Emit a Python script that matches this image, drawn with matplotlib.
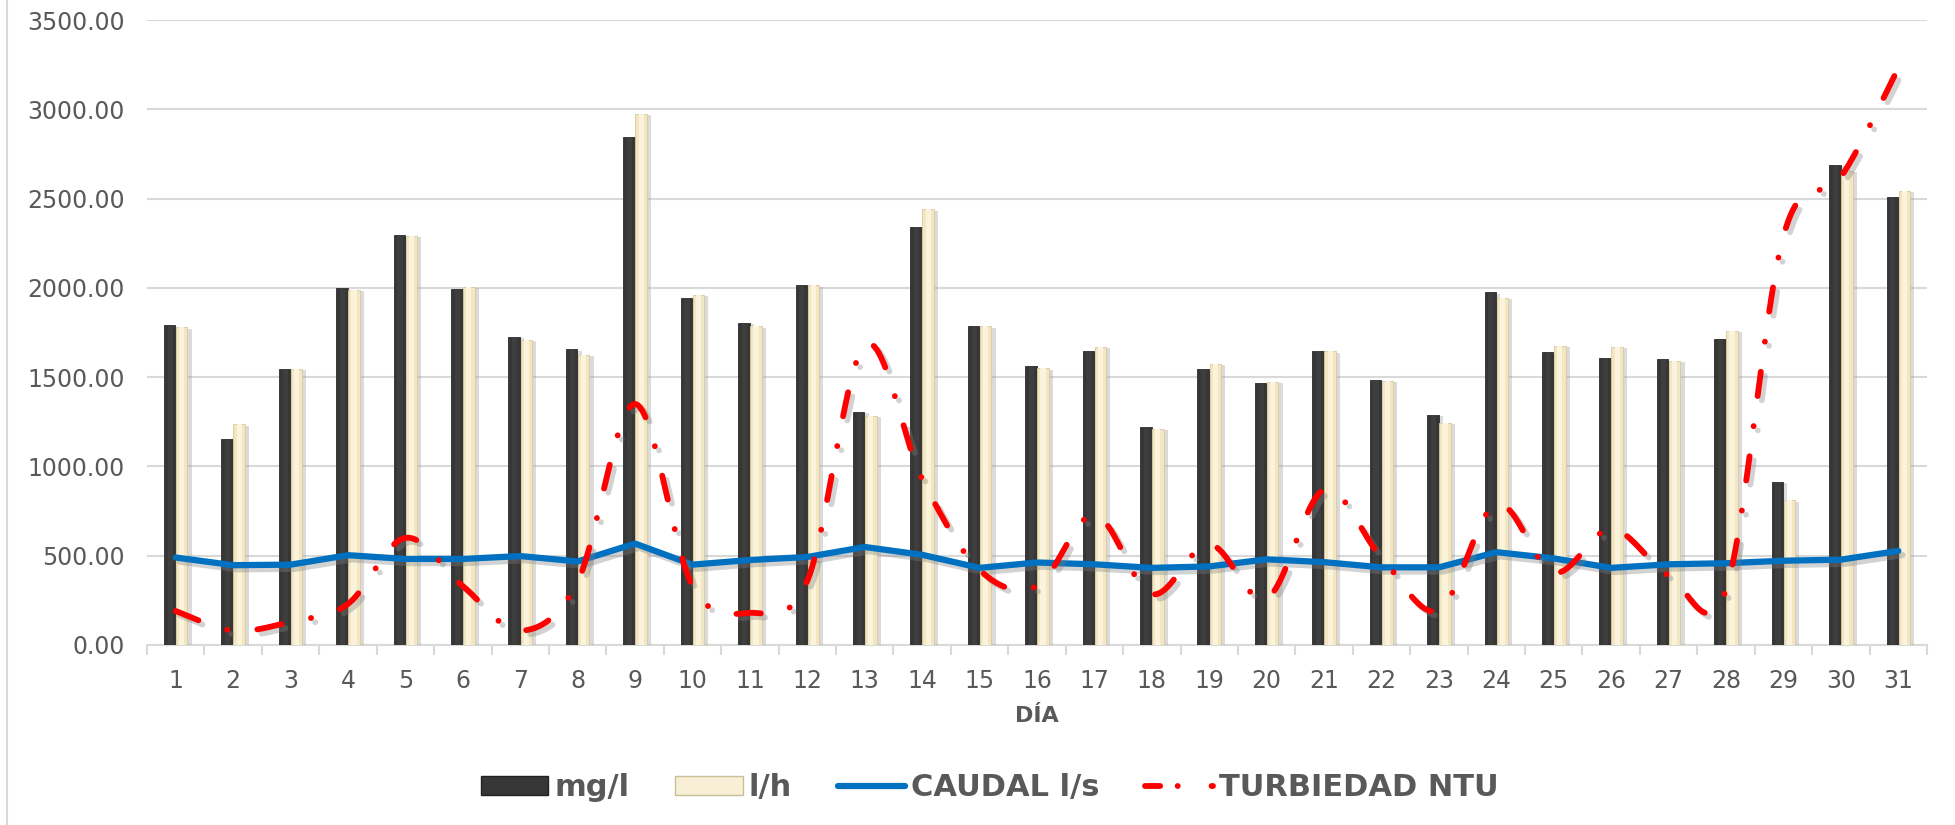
import numpy as np
import matplotlib
matplotlib.use("Agg")
import matplotlib.pyplot as plt
from matplotlib import patheffects as pe
from matplotlib.lines import Line2D
from matplotlib.patches import Patch
from matplotlib.ticker import FixedLocator, NullFormatter, FixedFormatter

# ---------------- data ----------------
dias = list(range(1, 32))
mg_l = [1790, 1155, 1545, 1998, 2295, 1992, 1725, 1655, 2843, 1945, 1805, 2015, 1305, 2340, 1785, 1560,
        1645, 1220, 1545, 1465, 1645, 1485, 1290, 1975, 1640, 1610, 1600, 1715, 915, 2690, 2510]
l_h = [1780, 1235, 1545, 1990, 2290, 2005, 1710, 1625, 2975, 1960, 1785, 2015, 1285, 2440, 1785, 1550,
       1670, 1210, 1575, 1475, 1645, 1478, 1245, 1945, 1675, 1670, 1590, 1760, 810, 2655, 2545]
caudal = [490, 447, 450, 503, 482, 482, 498, 468, 568, 450, 476, 493, 549, 505, 432, 462,
          452, 432, 440, 480, 464, 435, 435, 520, 485, 432, 452, 458, 472, 478, 527]
turbiedad = [190, 80, 130, 230, 600, 330, 80, 355, 1350, 330, 180, 360, 1680, 930, 420, 330,
             730, 285, 565, 260, 870, 490, 195, 790, 405, 650, 390, 310, 2290, 2620, 3230]
y_ticks = [0, 500, 1000, 1500, 2000, 2500, 3000, 3500]
series_names = ["mg/l", "l/h", "CAUDAL l/s", "TURBIEDAD NTU"]
x_title = "DÍA"

TXT = "#595959"
GRID = "#d9d9d9"
DARK = "#363636"
CREAM = "#f3e6c2"
BLUE = "#0070c0"
RED = "#ff0000"


def smooth(xs, ys, n=24):
    """Excel-like smoothed line (Bezier through the points)."""
    xs = np.asarray(xs, float)
    ys = np.asarray(ys, float)
    P = np.column_stack([xs, ys])
    out = []
    for i in range(len(P) - 1):
        p0 = P[i - 1] if i > 0 else P[i]
        p1 = P[i]
        p2 = P[i + 1]
        p3 = P[i + 2] if i + 2 < len(P) else P[i + 1]
        c1 = p1 + (p2 - p0) / 6.0
        c2 = p2 - (p3 - p1) / 6.0
        t = np.linspace(0, 1, n, endpoint=(i == len(P) - 2))[:, None]
        seg = ((1 - t) ** 3) * p1 + 3 * ((1 - t) ** 2) * t * c1 + 3 * (1 - t) * t ** 2 * c2 + t ** 3 * p2
        out.append(seg)
    out = np.vstack(out)
    return out[:, 0], out[:, 1]


fig = plt.figure(figsize=(19.56, 8.25), dpi=100)
fig.patch.set_facecolor("white")
ax = fig.add_axes([147 / 1956, 1 - 645 / 825, (1927 - 147) / 1956, (645 - 20) / 825])

x = np.array(dias, float)
w = 0.2
off = 0.105

shadow = [pe.SimplePatchShadow(offset=(3, -1), shadow_rgbFace="#9a9a9a", alpha=0.35), pe.Normal()]
b1 = ax.bar(x - off, mg_l, width=w, color=DARK, edgecolor="#2a2a2a", linewidth=0.6, zorder=3)
b2 = ax.bar(x + off, l_h, width=w, color=CREAM, edgecolor="#d8c9a0", linewidth=0.6, zorder=3)
for b in list(b1) + list(b2):
    b.set_path_effects(shadow)
# bevel highlights
ax.bar(x - off + 0.01, mg_l, width=w * 0.45, color="#3e3e3e", linewidth=0, zorder=4)
ax.bar(x + off, l_h, width=w * 0.45, color="#fbf3dc", linewidth=0, zorder=4)

lshadow = [pe.SimpleLineShadow(offset=(3, -3), shadow_color="#808080", alpha=0.35), pe.Normal()]
ax.plot(x, caudal, color=BLUE, lw=4.5, solid_capstyle="round", solid_joinstyle="round",
        zorder=5, path_effects=lshadow)

sx, sy = smooth(x, turbiedad)
red_ls = (0, (4.2, 5.2, 0.01, 5.2))
ax.plot(sx, sy, color=RED, lw=4.2, linestyle=red_ls, dash_capstyle="round",
        zorder=6, path_effects=lshadow)

ax.set_xlim(0.5, 31.5)
ax.set_ylim(0, 3500)
ax.set_yticks(y_ticks)
ax.set_yticklabels([f"{v:.2f}" for v in y_ticks])
ax.grid(axis="y", color=GRID, lw=1.5, zorder=0)
ax.set_axisbelow(True)

ax.xaxis.set_major_locator(FixedLocator(np.arange(0.5, 32, 1)))
ax.xaxis.set_major_formatter(NullFormatter())
ax.xaxis.set_minor_locator(FixedLocator(x))
ax.xaxis.set_minor_formatter(FixedFormatter([str(d) for d in dias]))
ax.tick_params(axis="x", which="major", length=7, width=1.5, color=GRID)
ax.tick_params(axis="x", which="minor", length=0, pad=17, labelsize=17, labelcolor=TXT)
ax.tick_params(axis="y", length=0, pad=16, labelsize=17, labelcolor=TXT)

for s in ["top", "right", "left"]:
    ax.spines[s].set_visible(False)
ax.spines["bottom"].set_color(GRID)
ax.spines["bottom"].set_linewidth(1.5)

ax.set_xlabel(x_title, fontsize=16, fontweight="bold", color=TXT, labelpad=10)

# left border of chart area
fig.add_artist(Line2D([7 / 1956, 7 / 1956], [0, 1], transform=fig.transFigure, color=GRID, lw=1.5))

handles = [
    Patch(facecolor=DARK, edgecolor="#222222", lw=1),
    Patch(facecolor="#f7efd6", edgecolor="#cbbd95", lw=1),
    Line2D([0], [0], color=BLUE, lw=4.5, solid_capstyle="round"),
    Line2D([0], [0], color=RED, lw=4.2, linestyle=(0, (2.6, 3.0, 0.01, 5.8)), dash_capstyle="round"),
]
leg = fig.legend(handles, series_names, loc="center", bbox_to_anchor=(0.506, 0.045), ncol=4,
                 frameon=False, prop={"size": 22, "weight": "bold"}, handlelength=2.2,
                 handleheight=0.6, handletextpad=0.2, columnspacing=1.5)
for t in leg.get_texts():
    t.set_color(TXT)

fig.savefig("out.png", dpi=100, facecolor="white")
